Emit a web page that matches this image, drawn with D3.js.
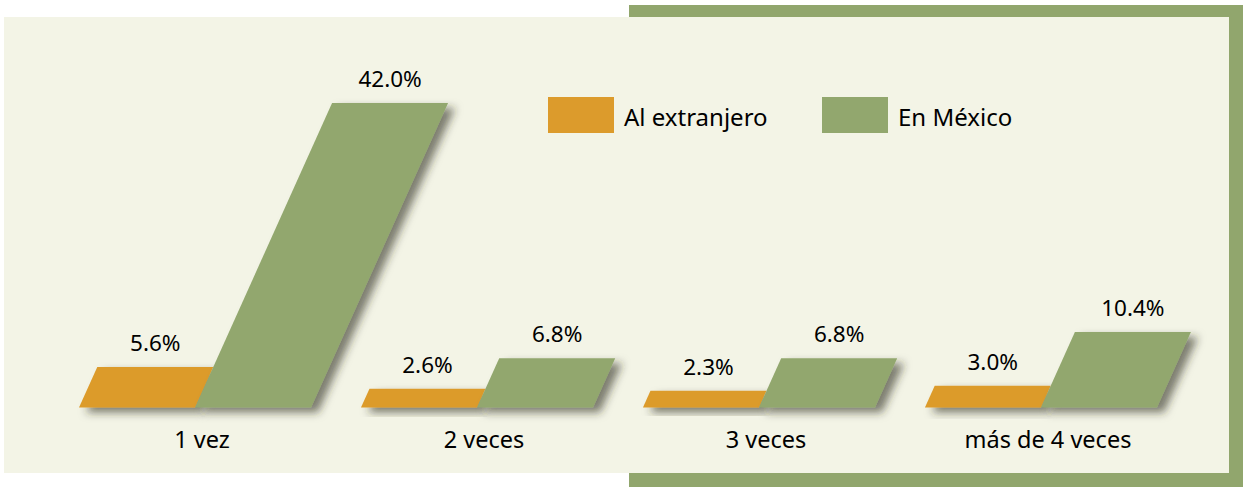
<!DOCTYPE html>
<html><head><meta charset="utf-8">
<script src="https://cdn.jsdelivr.net/npm/d3@7"></script>
<style>html,body{margin:0;padding:0;background:#fff;}svg{display:block;}</style>
</head><body>
<script>
const categories = ["1 vez", "2 veces", "3 veces", "más de 4 veces"];
const seriesNames = ["Al extranjero", "En México"];
const alExtranjero = [5.6, 2.6, 2.3, 3.0];
const enMexico = [42.0, 6.8, 6.8, 10.4];
const seriesColors = ["#dc9b2c", "#92a76e"];

const W = 1243, H = 487;
const svg = d3.select("body").append("svg").attr("width", W).attr("height", H);
const FONT = "'Noto Sans', 'Open Sans', sans-serif";

const defs = svg.append("defs");
const f = defs.append("filter").attr("id", "shadow").attr("x", "-30%").attr("y", "-30%").attr("width", "160%").attr("height", "180%");
f.append("feDropShadow").attr("dx", 7).attr("dy", 5).attr("stdDeviation", 4.5)
  .attr("flood-color", "#2a2a20").attr("flood-opacity", 0.6);

// frame
svg.append("rect").attr("x", 629).attr("y", 5).attr("width", W - 629).attr("height", H - 5).attr("fill", "#91a66d");
svg.append("rect").attr("x", 4).attr("y", 17).attr("width", 1225).attr("height", 456).attr("fill", "#f3f4e6");

const baseY = 407.5;
const y = d3.scaleLinear().domain([0, 42]).range([baseY, 103]);
const x = d3.scaleBand().domain(categories).range([79, 1157]).paddingInner(0.177).paddingOuter(0);
const xs = d3.scaleBand().domain(seriesNames).range([0, x.bandwidth()]);
const skew = 0.45;

const data = [];
seriesNames.forEach((s, si) => {
  const vals = si === 0 ? alExtranjero : enMexico;
  categories.forEach((c, ci) => data.push({ s, si, c, v: vals[ci] }));
});

const g = svg.append("g");
data.forEach(d => {
  const x0 = x(d.c) + xs(d.s), w = xs.bandwidth();
  const yt = y(d.v), h = baseY - yt, dx = h * skew;
  g.append("path")
    .attr("d", `M${x0},${baseY} L${x0 + w},${baseY} L${x0 + w + dx},${yt} L${x0 + dx},${yt} Z`)
    .attr("fill", seriesColors[d.si])
    .attr("filter", "url(#shadow)");
  g.append("text")
    .attr("x", x0 + dx + w / 2).attr("y", yt - 16)
    .attr("text-anchor", "middle").attr("font-family", FONT).attr("font-size", 22.5)
    .attr("fill", "#000").text(d.v.toFixed(1) + "%");
});

// category labels
svg.selectAll(".cat").data(categories).enter().append("text")
  .attr("x", c => x(c) + x.bandwidth() / 2 + 7).attr("y", 448)
  .attr("text-anchor", "middle").attr("font-family", FONT).attr("font-size", 23.5)
  .attr("fill", "#000").text(c => c);

// legend
const legX = [548, 822];
seriesNames.forEach((s, i) => {
  svg.append("rect").attr("x", legX[i]).attr("y", 97).attr("width", 66).attr("height", 36).attr("fill", seriesColors[i]);
  svg.append("text").attr("x", legX[i] + 76).attr("y", 126)
    .attr("font-family", FONT).attr("font-size", 24).attr("fill", "#000").text(s);
});
</script>
</body></html>
